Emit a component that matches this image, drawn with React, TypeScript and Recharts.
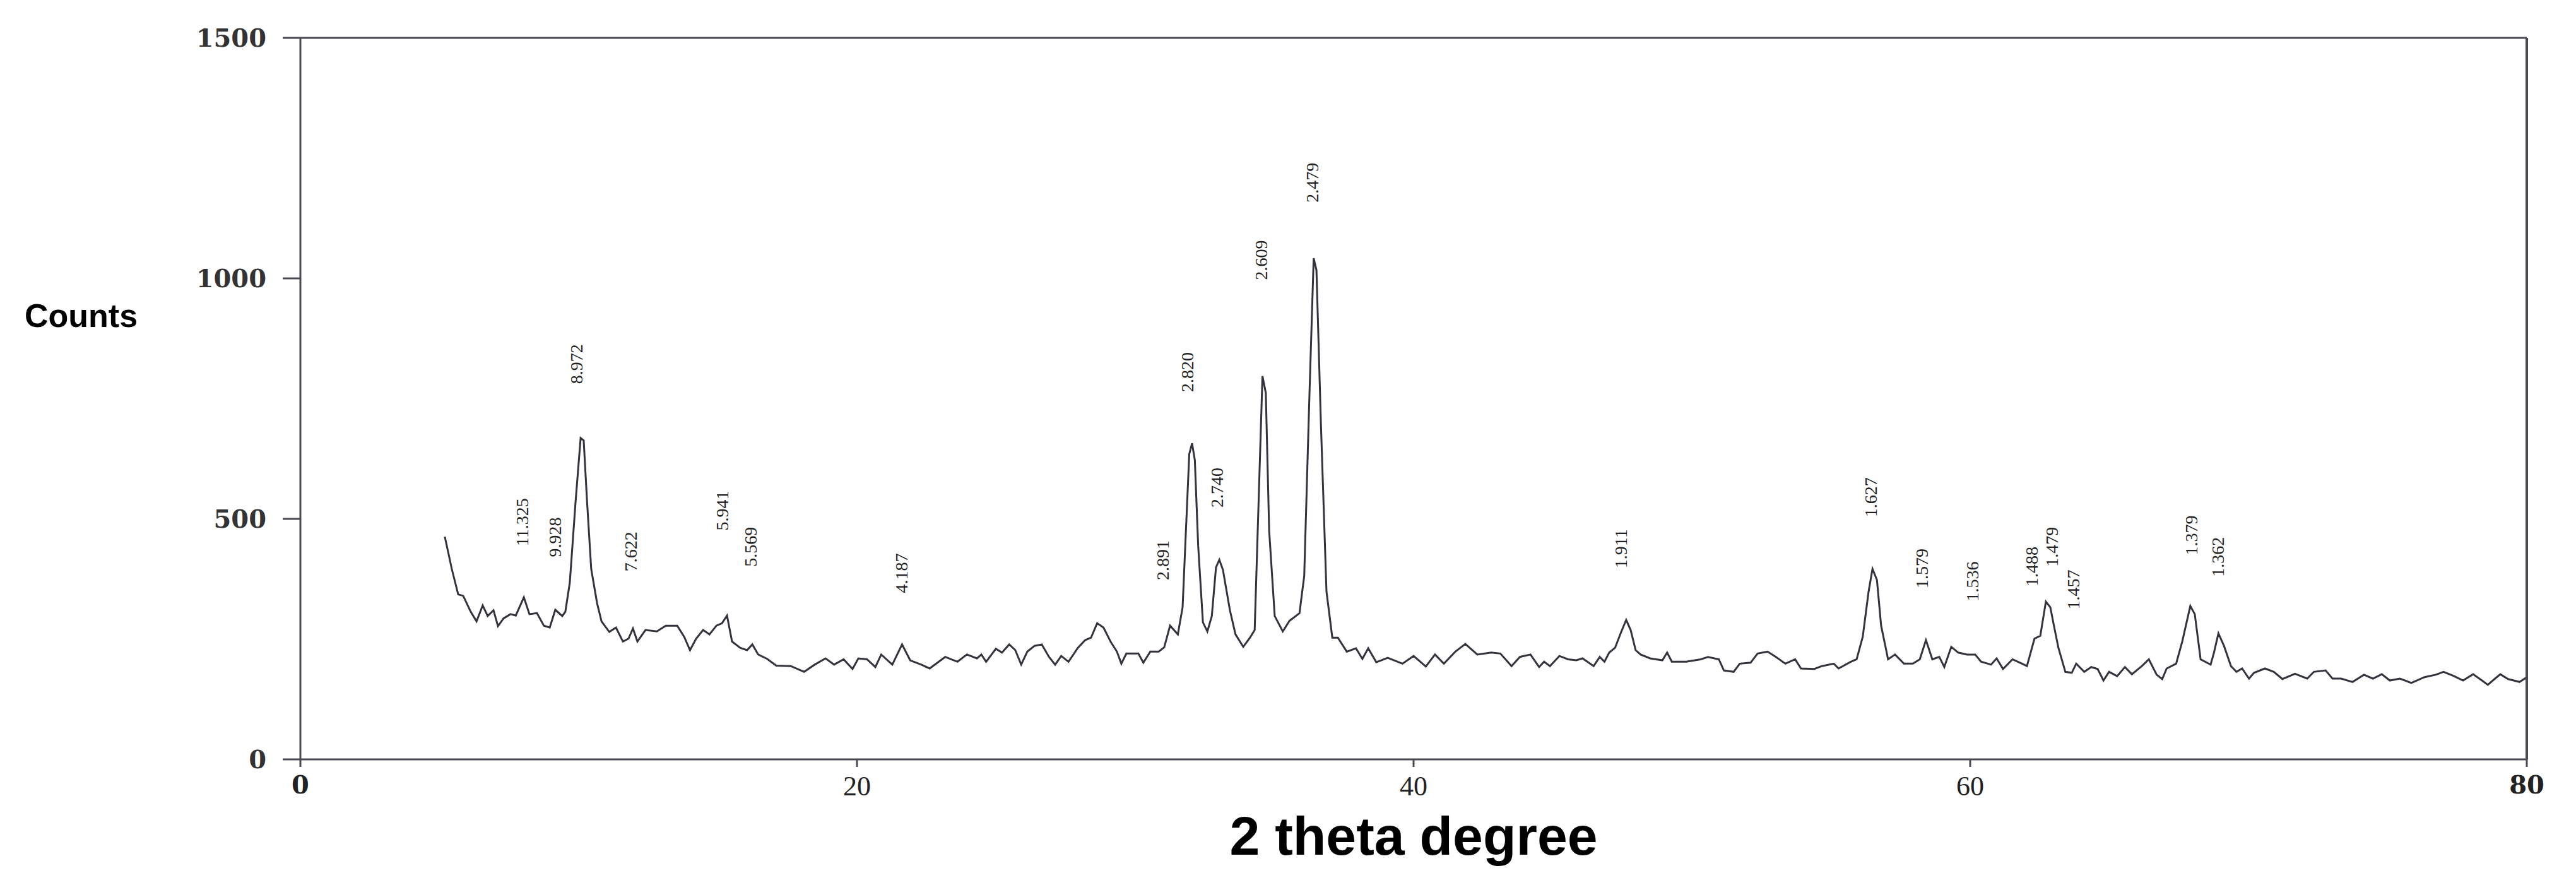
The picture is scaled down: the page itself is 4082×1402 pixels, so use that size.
import { ComposedChart, Line, Scatter, XAxis, YAxis } from "recharts";

// 2 theta (degrees)
const twoTheta = [
  5.19, 5.44, 5.67, 5.85, 6.12, 6.33, 6.55, 6.73, 6.94, 7.1, 7.3, 7.55, 7.74, 8.03, 8.23, 8.5, 8.75, 8.96, 9.16, 9.41,
  9.52, 9.68, 9.89, 10.07, 10.18, 10.3, 10.45, 10.66, 10.82, 11.1, 11.34, 11.59, 11.79, 11.95, 12.11, 12.4, 12.81, 13.13, 13.54, 13.79,
  14.0, 14.22, 14.47, 14.7, 14.95, 15.15, 15.33, 15.51, 15.8, 16.05, 16.24, 16.45, 16.77, 17.1, 17.62, 18.1, 18.48, 18.87, 19.18, 19.52,
  19.84, 20.05, 20.36, 20.66, 20.87, 21.27, 21.62, 21.91, 22.31, 22.61, 23.17, 23.61, 23.95, 24.31, 24.47, 24.64, 24.99, 25.21, 25.47, 25.69,
  25.9, 26.12, 26.38, 26.64, 26.9, 27.12, 27.34, 27.6, 27.94, 28.2, 28.41, 28.63, 28.86, 29.12, 29.34, 29.5, 29.68, 30.11, 30.29, 30.54,
  30.84, 31.04, 31.25, 31.53, 31.7, 31.82, 31.94, 32.04, 32.14, 32.26, 32.43, 32.59, 32.75, 32.9, 33.02, 33.15, 33.4, 33.6, 33.88, 34.12,
  34.29, 34.45, 34.57, 34.69, 34.81, 35.01, 35.3, 35.54, 35.9, 36.07, 36.26, 36.41, 36.51, 36.67, 36.87, 37.08, 37.28, 37.6, 37.93, 38.16,
  38.37, 38.66, 39.07, 39.6, 40.0, 40.44, 40.77, 41.09, 41.5, 41.86, 42.29, 42.79, 43.12, 43.52, 43.82, 44.2, 44.51, 44.69, 44.9, 45.24,
  45.55, 45.85, 46.07, 46.47, 46.69, 46.86, 47.03, 47.24, 47.46, 47.64, 47.8, 47.98, 48.16, 48.5, 48.94, 49.11, 49.28, 49.8, 50.32, 50.58,
  50.97, 51.15, 51.5, 51.72, 52.11, 52.36, 52.72, 53.02, 53.36, 53.71, 53.92, 54.4, 54.67, 55.1, 55.27, 55.71, 55.92, 56.14, 56.35, 56.49,
  56.65, 56.8, 57.05, 57.3, 57.62, 57.94, 58.19, 58.41, 58.64, 58.89, 59.07, 59.32, 59.57, 59.89, 60.18, 60.39, 60.75, 60.95, 61.18, 61.52,
  61.79, 62.04, 62.31, 62.52, 62.72, 62.88, 63.04, 63.17, 63.42, 63.65, 63.81, 64.1, 64.35, 64.58, 64.79, 64.99, 65.28, 65.56, 65.81, 66.17,
  66.42, 66.7, 66.9, 67.06, 67.4, 67.62, 67.91, 68.07, 68.28, 68.64, 68.76, 68.92, 69.12, 69.37, 69.57, 69.77, 70.02, 70.2, 70.59, 70.91,
  71.22, 71.67, 72.11, 72.35, 72.77, 73.02, 73.33, 73.74, 74.15, 74.47, 74.79, 75.08, 75.44, 75.85, 76.33, 76.73, 77.01, 77.39, 77.71, 78.07,
  78.39, 78.6, 78.84, 79.05, 79.33, 79.74, 79.98,
];

const counts = [
  463, 396, 343, 340, 307, 287, 320, 298, 310, 277, 293, 302, 299, 337, 302, 304, 278, 274, 311, 298,
  307, 367, 537, 668, 663, 537, 396, 325, 287, 265, 274, 245, 251, 272, 245, 269, 266, 278, 278, 255,
  227, 251, 269, 260, 278, 283, 299, 245, 232, 227, 239, 218, 209, 195, 194, 182, 197, 210, 197, 208,
  188, 210, 208, 192, 218, 197, 239, 206, 197, 189, 213, 203, 218, 210, 218, 203, 230, 222, 239, 227,
  197, 224, 236, 239, 213, 197, 215, 203, 232, 248, 253, 283, 274, 244, 224, 199, 220, 220, 201, 224,
  224, 233, 278, 260, 316, 476, 635, 657, 622, 444, 285, 266, 298, 399, 415, 394, 310, 260, 234, 253,
  269, 571, 797, 762, 476, 298, 266, 288, 304, 381, 762, 1042, 1017, 698, 349, 253, 253, 224, 231, 209,
  231, 202, 211, 199, 215, 193, 218, 199, 224, 240, 218, 222, 220, 194, 213, 218, 192, 203, 194, 215,
  208, 206, 210, 194, 213, 203, 222, 232, 265, 290, 269, 227, 218, 210, 206, 222, 203, 203, 208, 213,
  208, 185, 182, 199, 201, 220, 224, 213, 199, 208, 189, 188, 194, 199, 189, 203, 208, 255, 349, 396,
  373, 278, 208, 218, 199, 199, 208, 248, 208, 213, 192, 234, 222, 218, 218, 203, 197, 210, 188, 208,
  201, 194, 251, 257, 328, 316, 269, 232, 182, 180, 199, 182, 192, 188, 164, 182, 173, 192, 177, 194,
  208, 176, 167, 189, 199, 245, 319, 302, 208, 197, 222, 262, 236, 194, 182, 189, 168, 180, 189, 182,
  167, 178, 168, 182, 185, 168, 168, 161, 176, 168, 177, 164, 168, 159, 171, 176, 182, 173, 164, 177,
  164, 155, 167, 177, 167, 161, 170,
];

// d-spacing annotations above the peaks (label centre in data units)
const peakLabels = [
  "11.325", "9.928", "8.972", "7.622", "5.941", "5.569", "4.187", "2.891", "2.820", "2.740", "2.609",
  "2.479", "1.911", "1.627", "1.579", "1.536", "1.488", "1.479", "1.457", "1.379", "1.362",
];
const peakX = [7.97, 9.15, 9.92, 11.87, 15.17, 16.17, 21.6, 30.99, 31.88, 32.94, 34.53, 36.36, 47.46, 56.43, 58.26, 60.09, 62.22, 62.93, 63.7, 67.95, 68.89];
const peakY = [493, 462, 822, 432, 517, 442, 387, 414, 805, 565, 1038, 1199, 438, 545, 397, 370, 401, 442, 353, 466, 421];

const xTicks = [0, 20, 40, 60, 80];
const yTicks = [0, 500, 1000, 1500];

const pattern = twoTheta.map((x, i) => ({ x, y: counts[i] }));
const peaks = peakLabels.map((label, i) => ({ x: peakX[i], y: peakY[i], label }));

const axisColor = "#4a4a54";

const XTick = (props: any) => {
  const { x, y, payload } = props;
  const v = payload.value;
  const bold = v === 0 || v === 80;
  return (
    <text
      x={x}
      y={y}
      dy="0.75em"
      textAnchor="middle"
      fontFamily={bold ? "DejaVu Serif" : "Liberation Serif"}
      fontWeight={bold ? 700 : 400}
      fontSize={bold ? 40 : 44}
      fill="#222"
    >
      {v}
    </text>
  );
};

const PeakLabel = (props: any) => {
  const { cx, cy, payload } = props;
  return (
    <text
      x={cx}
      y={cy}
      transform={`rotate(-90 ${cx} ${cy})`}
      textAnchor="middle"
      dominantBaseline="central"
      fontFamily="Liberation Serif"
      fontSize={28}
      fill="#222"
    >
      {payload.label}
    </text>
  );
};

export default function App() {
  return (
    <div style={{ position: "absolute", left: 0, top: 0, width: 4082, height: 1402, background: "#fff" }}>
      <div
        style={{
          position: "absolute",
          left: 39,
          top: 474,
          fontFamily: "Liberation Sans, Arial, sans-serif",
          fontWeight: 700,
          fontSize: 52,
          lineHeight: "52px",
          color: "#000",
        }}
      >
        Counts
      </div>
      <ComposedChart width={4082} height={1402} margin={{ top: 59, right: 77, bottom: 0, left: 0 }}>
        <XAxis
          xAxisId="bottom"
          dataKey="x"
          type="number"
          domain={[0, 80]}
          ticks={xTicks}
          allowDataOverflow
          height={199}
          stroke={axisColor}
          strokeWidth={3}
          tickSize={12}
          tickMargin={12}
          tick={<XTick />}
          label={{
            value: "2 theta degree",
            position: "insideBottom",
            offset: 48,
            style: { fontFamily: "Liberation Sans, Arial, sans-serif", fontWeight: 700, fontSize: 86, fill: "#000" },
          }}
        />
        <XAxis
          xAxisId="top"
          orientation="top"
          dataKey="x"
          type="number"
          domain={[0, 80]}
          height={1}
          tick={false}
          tickLine={false}
          axisLine={{ stroke: axisColor, strokeWidth: 3 }}
        />
        <YAxis
          yAxisId="left"
          type="number"
          domain={[0, 1500]}
          ticks={yTicks}
          width={476}
          stroke={axisColor}
          strokeWidth={3}
          tickSize={28}
          tickMargin={26}
          tick={{ fontFamily: "DejaVu Serif", fontWeight: 700, fontSize: 40, fill: "#333" }}
        />
        <YAxis
          yAxisId="right"
          orientation="right"
          type="number"
          domain={[0, 1500]}
          width={1}
          tick={false}
          tickLine={false}
          axisLine={{ stroke: axisColor, strokeWidth: 4 }}
        />
        <Line
          xAxisId="bottom"
          yAxisId="left"
          data={pattern}
          dataKey="y"
          type="linear"
          stroke="#33333d"
          strokeWidth={3}
          dot={false}
          activeDot={false}
          isAnimationActive={false}
        />
        <Scatter
          xAxisId="bottom"
          yAxisId="left"
          data={peaks}
          dataKey="y"
          shape={<PeakLabel />}
          isAnimationActive={false}
        />
      </ComposedChart>
    </div>
  );
}
